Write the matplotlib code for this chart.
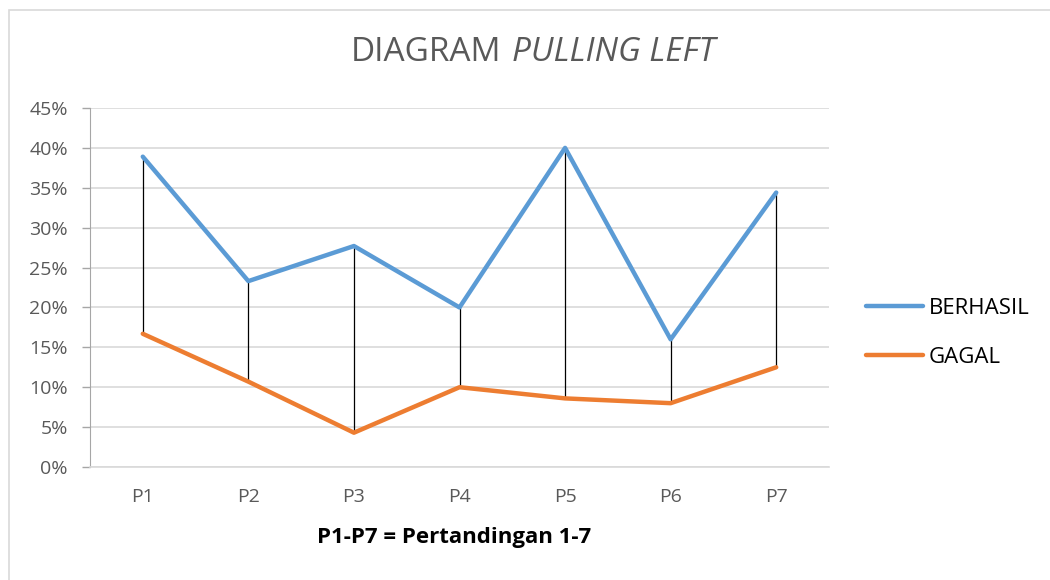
import matplotlib
matplotlib.use("Agg")
import matplotlib.pyplot as plt
from matplotlib.patches import Rectangle
from matplotlib.ticker import PercentFormatter

categories = ["P1", "P2", "P3", "P4", "P5", "P6", "P7"]
berhasil = [38.9, 23.3, 27.7, 20.0, 40.0, 16.0, 34.4]
gagal = [16.7, 10.7, 4.3, 10.0, 8.6, 8.0, 12.5]
yticks = [0, 5, 10, 15, 20, 25, 30, 35, 40, 45]

plt.rcParams['font.family'] = ['Open Sans', 'DejaVu Sans']

fig = plt.figure(figsize=(10.5, 5.8), dpi=100)
fig.patches.append(Rectangle((8.5/1050, -0.05), 1.1, 1 - 9.5/580 + 0.05,
                             transform=fig.transFigure, fill=False,
                             edgecolor="#D9D9D9", lw=1.2, zorder=0))

ax = fig.add_axes([90/1050, 1 - 467/580, (829-90)/1050, (467-108)/580])
x = list(range(len(categories)))
ax.vlines(x, gagal, berhasil, color="black", lw=0.9, zorder=2)
ax.plot(x, berhasil, color="#5B9BD5", lw=3.2, label="BERHASIL", zorder=3,
        solid_capstyle="round", solid_joinstyle="round")
ax.plot(x, gagal, color="#ED7D31", lw=3.2, label="GAGAL", zorder=3,
        solid_capstyle="round", solid_joinstyle="round")

ax.set_xlim(-0.5, len(categories) - 0.5)
ax.set_ylim(0, 45)
ax.set_yticks(yticks)
ax.yaxis.set_major_formatter(PercentFormatter(decimals=0))
ax.set_xticks(x)
ax.set_xticklabels(categories)
ax.grid(axis="y", color="#D9D9D9", lw=1.2)
ax.set_axisbelow(True)
for s in ["top", "right"]:
    ax.spines[s].set_visible(False)
ax.spines["left"].set_color("#A6A6A6")
ax.spines["bottom"].set_color("#D9D9D9")
ax.spines["bottom"].set_linewidth(1.2)
ax.tick_params(axis="y", colors="#A6A6A6", labelcolor="#595959", labelsize=14,
               length=6, width=1, pad=10)
ax.tick_params(axis="x", length=0, labelcolor="#595959", labelsize=14, pad=15)

ax.set_xlabel("P1-P7 = Pertandingan 1-7", fontsize=16, fontweight="bold",
              color="black", labelpad=15)
ax.xaxis.label.set_x((454 - 90) / 739)

fig.text(501/1050, 1 - 61/580, "DIAGRAM", ha="right", va="baseline",
         fontsize=24, color="#595959")
fig.text(512/1050, 1 - 61/580, "PULLING LEFT", ha="left", va="baseline",
         fontsize=24, color="#595959", style="italic")

leg = ax.legend(loc="center left", bbox_to_anchor=(866/1050, 1 - 333/580),
                bbox_transform=fig.transFigure, frameon=False, fontsize=16,
                handlelength=2.55, handletextpad=0.27, labelspacing=1.25,
                borderaxespad=0, borderpad=0)

fig.savefig("out.png", dpi=100)
